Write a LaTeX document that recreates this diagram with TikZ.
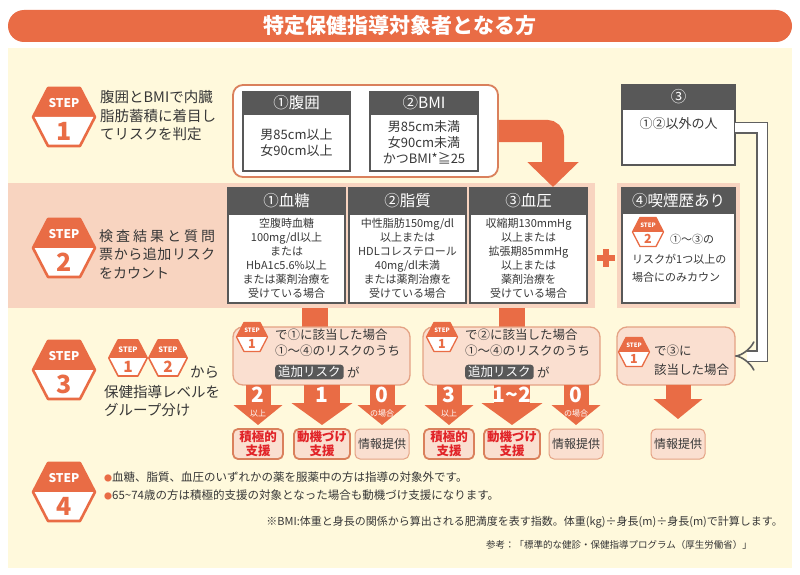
\documentclass[tikz,border=0pt]{standalone}
\usepackage{fontspec}
\setmainfont{Noto Sans CJK JP}
\usetikzlibrary{positioning,arrows.meta}
\definecolor{stepor}{RGB}{233,108,69}
\definecolor{cream}{RGB}{255,249,220}
\definecolor{peach}{RGB}{248,212,192}
\definecolor{boxpeach}{RGB}{250,223,208}
\definecolor{boxline}{RGB}{228,162,132}
\definecolor{dkgray}{RGB}{88,88,88}
\definecolor{txtgray}{RGB}{55,55,55}
\definecolor{redtxt}{RGB}{225,35,40}
\definecolor{grpline}{RGB}{218,128,92}
\tikzset{
  pics/stephex/.style 2 args={code={
    \begin{scope}[scale=#1,transform shape]
      \fill[stepor] (-16,-29) -- (16,-29) -- (31,0) -- (-31,0) -- cycle;
      \fill[white] (-31,0) -- (31,0) -- (16,29) -- (-16,29) -- cycle;
      \draw[stepor,line width=#1*2.6pt,line join=round] (-16,-29) -- (16,-29) -- (31,0) -- (16,29) -- (-16,29) -- (-31,0) -- cycle;
      \node[text=white,inner sep=0pt,font=\bfseries\fontsize{12}{12}\selectfont] (-step) at (0,-14) {STEP};
      \node[text=stepor,inner sep=0pt,font=\bfseries\fontsize{25}{25}\selectfont] (-num) at (0,14) {#2};
    \end{scope}}}
}
\begin{document}
\begin{tikzpicture}[x=1pt,y=-1pt,
  title bar/.style={fill=stepor,text=white,rounded corners=16pt,minimum width=784pt,minimum height=32pt,font=\bfseries\fontsize{21}{21}\selectfont},
  step txt/.style={align=left,inner sep=0pt,text=txtgray,font=\fontsize{14.5}{18.5}\selectfont},
  grp node/.style={draw=grpline,line width=1.8pt,fill=white,rounded corners=10pt,minimum width=265pt,minimum height=92pt},
  hdr node/.style={fill=dkgray,draw=dkgray,line width=2pt,text=white,inner sep=0pt,outer sep=0pt,font=\fontsize{15.5}{16}\selectfont},
  body node/.style={fill=white,draw=dkgray,line width=2pt,inner sep=0pt,outer sep=0pt,align=center,text=txtgray},
  band node/.style={fill=peach,inner sep=0pt,outer sep=0pt,minimum height=125pt},
  small txt/.style={inner sep=0pt,text=txtgray,font=\fontsize{11}{14}\selectfont},
  mid txt/.style={align=left,inner sep=0pt,text=txtgray,font=\fontsize{12.5}{16}\selectfont},
  s3 box/.style={fill=boxpeach,draw=boxline,line width=1.3pt,rounded corners=10pt,minimum height=58pt,outer sep=0pt},
  tag node/.style={fill=dkgray,text=white,rounded corners=3pt,inner xsep=3pt,inner ysep=1.5pt,font=\fontsize{12.5}{13}\selectfont},
  res strong/.style={fill=boxpeach,draw=grpline,line width=1.8pt,rounded corners=5pt,minimum height=30pt,inner sep=0pt,outer sep=0pt,align=center,text=redtxt,font=\bfseries\fontsize{12.5}{14}\selectfont},
  res info/.style={fill=boxpeach,draw=boxline,line width=1pt,rounded corners=5pt,minimum height=30pt,inner sep=0pt,outer sep=0pt,text=txtgray,font=\fontsize{12}{14}\selectfont},
  fat arrow/.style={draw=stepor,line width=22pt,rounded corners=6pt,-{Triangle[length=25pt,width=50pt]}},
  down arrow/.style={draw=stepor,line width=25pt,-{Triangle[length=20pt,width=48pt]}},
  wide arrow/.style={draw=stepor,line width=36pt,-{Triangle[length=22pt,width=60pt]}},
  trunk/.style={draw=stepor,line width=26pt},
  hollow arrow/.style={draw=gray!75!black,double=white,double distance=9pt,line width=1.6pt,-{Implies[scale=2]}},
  num lbl/.style={text=white,inner sep=0pt,font=\bfseries\fontsize{21}{21}\selectfont},
  sub lbl/.style={text=white,inner sep=0pt,font=\fontsize{8}{8}\selectfont},
  note txt/.style={inner sep=0pt,text=txtgray,font=\fontsize{11.5}{14}\selectfont}]
\useasboundingbox (0,0) rectangle (800,575);
\fill[white] (0,0) rectangle (800,575);
\fill[cream] (8,48) rectangle (792,568);
\node[title bar] (title) at (400,26) {特定保健指導対象者となる方};

\pic (st1) at (64,117) {stephex={1}{1}};
\node[step txt,anchor=west] (s1txt) at (100,116) {腹囲とBMIで内臓\\脂肪蓄積に着目し\\てリスクを判定};
\node[grp node] (grp1) at (365.5,131) {};
\node[hdr node,minimum width=107pt,minimum height=22pt] (h11) at (296.5,103) {①腹囲};
\node[body node,minimum width=107pt,minimum height=57pt,font=\fontsize{13}{16}\selectfont,below=0pt of h11] (b11) {男85cm以上\\女90cm以上};
\node[hdr node,minimum width=108pt,minimum height=22pt] (h12) at (424,103) {②BMI};
\node[body node,minimum width=108pt,minimum height=57pt,font=\fontsize{13}{16}\selectfont,below=0pt of h12] (b12) {男85cm未満\\女90cm未満\\かつBMI*≧25};
\node[hdr node,minimum width=113pt,minimum height=24pt] (h13) at (678.5,97) {③};
\node[body node,minimum width=113pt,minimum height=56pt,below=0pt of h13] (b13) {};
\node[inner sep=0pt,text=txtgray,font=\fontsize{13}{14}\selectfont] (t13) at (678.5,124) {①②以外の人};

\node[band node,minimum width=587pt] (band2) at (301.5,245.5) {};
\node[band node,minimum width=123pt] (band4) at (678.5,245.5) {};
\coordinate (bend tip) at (553,187);
\draw[fat arrow] (grp1.east) -| (bend tip);
\pic (st2) at (64,248) {stephex={1}{2}};
\node[step txt,anchor=west,font=\fontsize{14}{18.5}\selectfont] (s2txt) at (99,254) {\makebox[116pt][s]{検\hfil 査\hfil 結\hfil 果\hfil と\hfil 質\hfil 問}\\\makebox[116pt][s]{票\hfil か\hfil ら\hfil 追\hfil 加\hfil リ\hfil ス\hfil ク}\\をカウント};
\node[hdr node,minimum width=117pt,minimum height=26pt] (h21) at (286.5,201) {①血糖};
\node[body node,minimum width=117pt,minimum height=89pt,font=\fontsize{11}{14}\selectfont,below=0pt of h21] (b21) {空腹時血糖\\100mg/dl以上\\または\\HbA1c5.6\%以上\\または薬剤治療を\\受けている場合};
\node[hdr node,minimum width=117pt,minimum height=26pt] (h22) at (407.5,201) {②脂質};
\node[body node,minimum width=117pt,minimum height=89pt,font=\fontsize{11}{14}\selectfont,below=0pt of h22] (b22) {中性脂肪150mg/dl\\以上または\\HDLコレステロール\\40mg/dl未満\\または薬剤治療を\\受けている場合};
\node[hdr node,minimum width=117pt,minimum height=26pt] (h23) at (528.5,201) {③血圧};
\node[body node,minimum width=117pt,minimum height=89pt,font=\fontsize{11}{14}\selectfont,below=0pt of h23] (b23) {収縮期130mmHg\\以上または\\拡張期85mmHg\\以上または\\薬剤治療を\\受けている場合};
\fill[stepor] (597,255) rectangle (615,261);
\fill[stepor] (603,249) rectangle (609,267);
\node[hdr node,minimum width=113pt,minimum height=25pt] (h24) at (678.5,200.5) {④喫煙歴あり};
\node[body node,minimum width=113pt,minimum height=90pt,below=0pt of h24] (b24) {};
\pic (st2s) at (648,232) {stephex={0.5}{2}};
\node[small txt,anchor=west] (s4a) at (670,239) {①〜③の};
\node[small txt,anchor=west] (s4b) at (632,259) {リスクが1つ以上の};
\node[small txt,anchor=west] (s4c) at (632,277) {場合にのみカウン};

\pic (st3) at (64,370) {stephex={1}{3}};
\pic (st3a) at (128,358) {stephex={0.62}{1}};
\pic (st3b) at (168,358) {stephex={0.62}{2}};
\node[step txt,anchor=west] (s3a) at (190,372) {から};
\node[step txt,anchor=west] (s3b) at (104,401) {保健指導レベルを\\グループ分け};
\coordinate (ltop) at (314.5,327);
\coordinate (rtop) at (512,327);
\draw[trunk] (band2.south -| ltop) -- (ltop);
\draw[trunk] (band2.south -| rtop) -- (rtop);
\node[s3 box,minimum width=177pt] (lb) at (321.5,356) {};
\node[s3 box,minimum width=177pt] (rb) at (511.5,356) {};
\node[s3 box,minimum width=118pt] (tb) at (676,356) {};
\pic (lbh) at (252,337) {stephex={0.5}{1}};
\node[mid txt,anchor=north west] (lbt) at (275,329) {で①に該当した場合\\①〜④のリスクのうち};
\node[tag node,anchor=west] (lbk) at (275,372) {追加リスク};
\node[mid txt,right=3pt of lbk] (lbg) {が};
\pic (rbh) at (442,337) {stephex={0.5}{1}};
\node[mid txt,anchor=north west] (rbt) at (465,329) {で②に該当した場合\\①〜④のリスクのうち};
\node[tag node,anchor=west] (rbk) at (465,372) {追加リスク};
\node[mid txt,right=3pt of rbk] (rbg) {が};
\pic (tbh) at (634,352) {stephex={0.5}{1}};
\node[mid txt,anchor=west,font=\fontsize{12.5}{19}\selectfont] (tbt) at (654,360) {で③に\\該当した場合};
\draw[hollow arrow] ([yshift=9pt]b13.east) -- ++(27,0) |- (tb.east);

\node[res strong,minimum width=50pt] (lr1) at (258,444) {積極的\\支援};
\node[res strong,minimum width=56pt] (lr2) at (322,444) {動機づけ\\支援};
\node[res info,minimum width=54pt] (lr3) at (382,444) {情報提供};
\node[res strong,minimum width=50pt] (rr1) at (449,444) {積極的\\支援};
\node[res strong,minimum width=56pt] (rr2) at (512,444) {動機づけ\\支援};
\node[res info,minimum width=54pt] (rr3) at (576,444) {情報提供};
\node[res info,minimum width=54pt] (tr) at (678,444) {情報提供};
\draw[down arrow] (lb.south -| lr1.north) -- ([yshift=4pt]lr1.north) node[num lbl,pos=0.25] {2} node[sub lbl,pos=0.72] {以上};
\draw[wide arrow] (lb.south -| lr2.north) -- ([yshift=4pt]lr2.north) node[num lbl,pos=0.25] {1};
\draw[down arrow] (lb.south -| lr3.north) -- ([yshift=4pt]lr3.north) node[num lbl,pos=0.25] {0} node[sub lbl,pos=0.72] {の場合};
\draw[down arrow] (rb.south -| rr1.north) -- ([yshift=4pt]rr1.north) node[num lbl,pos=0.25] {3} node[sub lbl,pos=0.72] {以上};
\draw[wide arrow] (rb.south -| rr2.north) -- ([yshift=4pt]rr2.north) node[num lbl,pos=0.25] {1\char"7E 2};
\draw[down arrow] (rb.south -| rr3.north) -- ([yshift=4pt]rr3.north) node[num lbl,pos=0.25] {0} node[sub lbl,pos=0.72] {の場合};
\draw[down arrow] (tb.south -| tr.north) -- ([yshift=10pt]tr.north);

\pic (st4) at (64,492) {stephex={1}{4}};
\node[note txt,anchor=west] (n1) at (104,477) {\textcolor{stepor}{\fontsize{8}{8}\selectfont ●}血糖、脂質、血圧のいずれかの薬を服薬中の方は指導の対象外です。};
\node[note txt,anchor=west] (n2) at (104,495) {\textcolor{stepor}{\fontsize{8}{8}\selectfont ●}65\char"7E 74歳の方は積極的支援の対象となった場合も動機づけ支援になります。};
\node[note txt,anchor=east,font=\fontsize{11}{12}\selectfont] (bmi) at (783,522) {※BMI:体重と身長の関係から算出される肥満度を表す指数。体重(kg)÷身長(m)÷身長(m)で計算します。};
\node[note txt,anchor=east,font=\fontsize{9.5}{10}\selectfont] (refline) at (752,545) {参考：「標準的な健診・保健指導プログラム（厚生労働省）」};
\end{tikzpicture}
\end{document}
